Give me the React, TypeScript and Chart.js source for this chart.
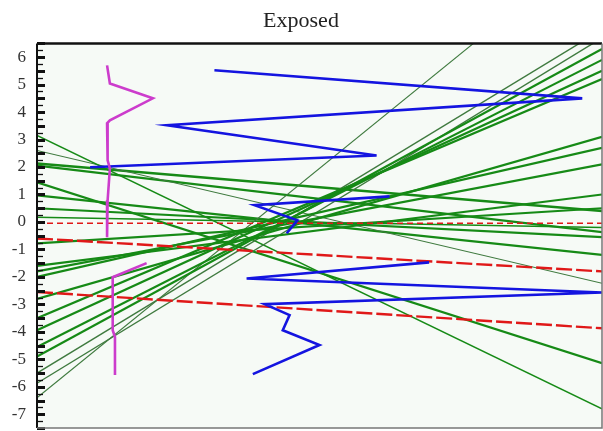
import React, { useEffect, useRef } from 'react';
import { Chart, registerables } from 'chart.js';

Chart.register(...registerables);

// x runs across the plot from 0 (left edge) to 100 (right edge)
const X_LEFT = 0;
const X_RIGHT = 100;

// y tick labels
const yTickValues = [-7, -6, -5, -4, -3, -2, -1, 0, 1, 2, 3, 4, 5, 6];

// green straight lines rising to the right: value at left edge -> value at right edge
const greenUpStart = [-0.78, -1.6, -1.8, -2.0, -2.8, -3.5, -3.94, -4.55, -4.9, -5.5, -5.87, -6.4];
const greenUpEnd = [0.5, 1.0, 2.1, 2.7, 3.1, 5.2, 5.5, 5.9, 6.3, 7.0, 6.7, 10.3];
// green straight lines falling to the right
const greenDownStart = [3.15, 2.6, 2.13, 2.05, 1.44, 0.97, 0.5, 0.17];
const greenDownEnd = [-6.8, -2.23, 0.4, -0.37, -5.14, -1.2, -0.55, -0.2];

// red dashed lines
const redStart = [-0.05, -0.6, -2.55];
const redEnd = [-0.05, -1.8, -3.87];

// blue trace (null = break)
const blueX = [31.4, 96.5, 23.0, 60.1, 9.4, null, 62.4, 38.5, 46.1, 44.2, null, 69.4, 37.1, 100, 40.3, 44.7, 43.5, 50.0, 38.2];
const blueY = [5.52, 4.5, 3.52, 2.42, 1.99, null, 0.93, 0.61, 0.06, -0.41, null, -1.47, -2.06, -2.57, -2.99, -3.39, -3.94, -4.48, -5.54];

// magenta trace (null = break)
const magentaX = [12.4, 12.9, 20.5, 12.9, 12.4, 12.5, 12.9, 12.5, 12.4, null, 19.4, 13.4, 13.4, 13.8, 13.8];
const magentaY = [5.7, 5.04, 4.5, 3.7, 3.59, 2.24, 1.95, 0.79, -0.56, null, -1.5, -2.01, -3.94, -4.19, -5.57];

// styles (kept apart from the values)
const greenUpWidth = [2.2, 2.2, 2.2, 2.2, 2.2, 2.2, 2.2, 2.2, 2.2, 1.4, 1.4, 1.1];
const greenDownWidth = [1.6, 1.1, 2.4, 2.2, 2.2, 2.2, 2.2, 1.6];

function toPoints(xs: (number | null)[], ys: (number | null)[]) {
  const pts: { x: number; y: number | null }[] = [];
  let lastX = 0;
  for (let i = 0; i < xs.length; i++) {
    const x = xs[i] == null ? lastX : (xs[i] as number);
    lastX = x;
    pts.push({ x, y: ys[i] });
  }
  return pts;
}

const framePlugin = {
  id: 'frameTicks',
  beforeDraw(chart: any) {
    const { ctx, chartArea: a } = chart;
    ctx.save();
    ctx.fillStyle = '#f6faf6';
    ctx.fillRect(a.left, a.top, a.right - a.left, a.bottom - a.top);
    ctx.restore();
  },
  afterDraw(chart: any) {
    const { ctx, chartArea: a } = chart;
    const ys = chart.scales.y;
    ctx.save();
    // minor/major tick marks pointing inward
    for (let v = -7.5; v <= 6.5 + 1e-9; v += 0.25) {
      const py = Math.round(ys.getPixelForValue(v)) + 0.5;
      const half = Math.abs(v * 2 - Math.round(v * 2)) < 1e-6;
      ctx.strokeStyle = '#111';
      ctx.lineWidth = half ? 3 : 1.3;
      ctx.beginPath();
      ctx.moveTo(a.left, py);
      ctx.lineTo(a.left + (half ? 8 : 6), py);
      ctx.stroke();
    }
    // frame
    ctx.strokeStyle = '#111';
    ctx.lineWidth = 2.5;
    ctx.beginPath();
    ctx.moveTo(a.left, a.top);
    ctx.lineTo(a.right, a.top);
    ctx.stroke();
    ctx.lineWidth = 2;
    ctx.beginPath();
    ctx.moveTo(a.left, a.top);
    ctx.lineTo(a.left, a.bottom);
    ctx.stroke();
    ctx.strokeStyle = '#777';
    ctx.lineWidth = 1.5;
    ctx.beginPath();
    ctx.moveTo(a.left, a.bottom);
    ctx.lineTo(a.right, a.bottom);
    ctx.lineTo(a.right, a.top);
    ctx.stroke();
    ctx.restore();
  },
};

export default function App() {
  const ref = useRef<HTMLCanvasElement | null>(null);

  useEffect(() => {
    if (!ref.current) return;
    const datasets: any[] = [];
    datasets.push({
      data: toPoints(magentaX, magentaY),
      borderColor: '#cc3ccc',
      borderWidth: 2.6,
      pointRadius: 0,
      spanGaps: false,
    });
    datasets.push({
      data: toPoints(blueX, blueY),
      borderColor: '#1414e0',
      borderWidth: 2.6,
      pointRadius: 0,
      spanGaps: false,
    });
    redStart.forEach((s, i) => {
      datasets.push({
        data: [
          { x: X_LEFT, y: s },
          { x: X_RIGHT, y: redEnd[i] },
        ],
        borderColor: '#e01818',
        borderWidth: i === 0 ? 1.5 : 2.4,
        borderDash: i === 0 ? [6, 4] : [16, 4],
        pointRadius: 0,
      });
    });
    greenUpStart.forEach((s, i) => {
      datasets.push({
        data: [
          { x: X_LEFT, y: s },
          { x: X_RIGHT, y: greenUpEnd[i] },
        ],
        borderColor: greenUpWidth[i] < 1.5 ? '#3f7a3f' : '#168a16',
        borderWidth: greenUpWidth[i],
        pointRadius: 0,
      });
    });
    greenDownStart.forEach((s, i) => {
      datasets.push({
        data: [
          { x: X_LEFT, y: s },
          { x: X_RIGHT, y: greenDownEnd[i] },
        ],
        borderColor: greenDownWidth[i] < 1.5 ? '#3f7a3f' : '#168a16',
        borderWidth: greenDownWidth[i],
        pointRadius: 0,
      });
    });

    const chart = new Chart(ref.current, {
      type: 'line',
      data: { datasets },
      plugins: [framePlugin],
      options: {
        animation: false,
        responsive: false,
        devicePixelRatio: 1,
        layout: { padding: { left: 0, right: 1, top: 0, bottom: 3 } },
        plugins: {
          legend: { display: false },
          tooltip: { enabled: false },
          title: {
            display: true,
            text: 'Exposed',
            color: '#222',
            font: { family: 'Liberation Serif', size: 22, weight: 'normal' },
            padding: { top: 8, bottom: 9 },
          },
        },
        scales: {
          x: {
            type: 'linear',
            min: X_LEFT,
            max: X_RIGHT,
            display: false,
          },
          y: {
            type: 'linear',
            min: -7.5,
            max: 6.5,
            grid: { display: false, drawTicks: false },
            border: { display: false },
            afterFit: (scale: any) => {
              scale.width = 37;
              scale.paddingTop = 0;
              scale.paddingBottom = 0;
            },
            afterBuildTicks: (scale: any) => {
              scale.ticks = yTickValues.map((v) => ({ value: v }));
            },
            ticks: {
              autoSkip: false,
              padding: 11,
              color: '#333',
              font: { family: 'Liberation Serif', size: 17 },
              callback: (v: any) => String(v),
            },
          },
        },
      },
    });
    return () => chart.destroy();
  }, []);

  return (
    <div style={{ position: 'absolute', left: 0, top: 0, width: 603, height: 431, background: '#fff' }}>
      <canvas ref={ref} width={603} height={431} style={{ display: 'block' }} />
    </div>
  );
}
